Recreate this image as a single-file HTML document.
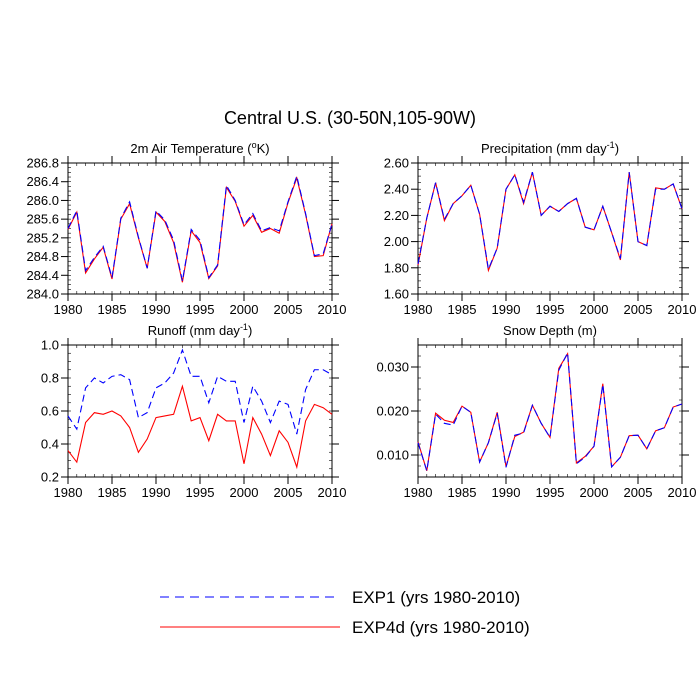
<!DOCTYPE html>
<html><head><meta charset="utf-8"><style>
body{margin:0;background:#fff;}
svg{display:block;font-family:"Liberation Sans",sans-serif;}
</style></head><body>
<svg id="chart" width="700" height="700" viewBox="0 0 700 700">
<text x="350" y="124" text-anchor="middle" font-size="18">Central U.S. (30-50N,105-90W)</text>
<g id="panels"></g>
<g>
<line x1="160" y1="597" x2="340" y2="597" stroke="#0000ff" stroke-width="1" stroke-dasharray="9,6"/>
<text x="352" y="603" font-size="17">EXP1 (yrs 1980-2010)</text>
<line x1="160" y1="627" x2="340" y2="627" stroke="#ff0000" stroke-width="1"/>
<text x="352" y="633" font-size="17">EXP4d (yrs 1980-2010)</text>
</g>
</svg>
<script>
const years=[];for(let y=1980;y<=2010;y++)years.push(y);
const xTicks=[1980,1985,1990,1995,2000,2005,2010];
const tempExp4d=[285.38,285.75,284.45,284.75,285.0,284.32,285.6,285.93,285.2,284.55,285.75,285.55,285.1,284.25,285.35,285.1,284.33,284.6,286.28,285.98,285.45,285.68,285.32,285.4,285.3,285.95,286.48,285.7,284.8,284.82,285.5];
const tempExp1=[285.4,285.78,284.5,284.78,285.02,284.35,285.62,285.97,285.22,284.55,285.78,285.58,285.15,284.28,285.38,285.15,284.35,284.62,286.32,286.0,285.48,285.72,285.35,285.42,285.35,285.97,286.52,285.72,284.82,284.86,285.5];
const tempTicks=[284.0,284.4,284.8,285.2,285.6,286.0,286.4,286.8];
const precipExp4d=[1.82,2.18,2.45,2.16,2.29,2.35,2.43,2.21,1.78,1.95,2.40,2.51,2.29,2.53,2.20,2.27,2.23,2.29,2.33,2.11,2.09,2.27,2.07,1.86,2.53,2.00,1.97,2.41,2.40,2.44,2.25];
const precipExp1=[1.83,2.18,2.45,2.17,2.29,2.35,2.43,2.21,1.79,1.95,2.40,2.51,2.30,2.53,2.20,2.27,2.23,2.29,2.33,2.11,2.09,2.27,2.07,1.87,2.53,2.00,1.97,2.40,2.40,2.44,2.25];
const precipTicks=[1.6,1.8,2.0,2.2,2.4,2.6];
const runoffExp4d=[.36,.29,.53,.59,.58,.60,.57,.50,.35,.43,.56,.57,.58,.75,.54,.56,.42,.58,.54,.54,.28,.56,.46,.33,.48,.41,.26,.54,.64,.62,.58];
const runoffExp1=[.57,.49,.74,.80,.77,.81,.82,.79,.56,.59,.74,.77,.83,.97,.81,.81,.65,.81,.78,.78,.53,.75,.66,.53,.66,.64,.46,.73,.85,.85,.82];
const runoffTicks=[0.2,0.4,0.6,0.8,1.0];
const snowExp4d=[.0130,.0064,.0195,.0179,.0174,.0211,.0197,.0084,.0128,.0197,.0074,.0142,.0152,.0213,.0172,.0140,.0297,.0330,.0082,.0097,.0120,.0262,.0073,.0095,.0144,.0145,.0114,.0155,.0162,.0209,.0216];
const snowExp1=[.0128,.0064,.0193,.0172,.0168,.0211,.0197,.0084,.0128,.0195,.0072,.0145,.0150,.0213,.0172,.0140,.0293,.0332,.0080,.0095,.0120,.0260,.0073,.0095,.0144,.0145,.0114,.0155,.0162,.0209,.0216];
const snowTicks=[0.010,0.020,0.030];

const NS="http://www.w3.org/2000/svg";
const root=document.getElementById('panels');
function mk(tag,attrs,parent){const e=document.createElementNS(NS,tag);for(const k in attrs)e.setAttribute(k,attrs[k]);parent.appendChild(e);return e;}

function panel(opt){
  const g=mk('g',{},root);
  
  
  const L=opt.x0,R=opt.x1,T=opt.y0,B=opt.y1;
  const xs=v=>L+(v-1980)/30*(R-L);
  const ys=v=>B-(v-opt.ymin)/(opt.ymax-opt.ymin)*(B-T);
  const t=mk('text',{x:(L+R)/2,y:T-10,'text-anchor':'middle','font-size':13},g);
  
  
  t.innerHTML=opt.title;
  for(let v=opt.ymin;v<=opt.ymax+1e-9;v+=opt.minor){
    const y=ys(v);
    mk('line',{x1:L,y1:y,x2:L+3,y2:y,stroke:'#000','stroke-width':0.6},g);
    mk('line',{x1:R,y1:y,x2:R-3,y2:y,stroke:'#000','stroke-width':0.6},g);
  }
  for(let yr=1980;yr<=2010;yr++){
    const x=xs(yr);
    mk('line',{x1:x,y1:B,x2:x,y2:B-3,stroke:'#000','stroke-width':0.6},g);
    mk('line',{x1:x,y1:T,x2:x,y2:T+3,stroke:'#000','stroke-width':0.6},g);
  }
  opt.ticks.forEach(v=>{
    const y=ys(v);
    mk('line',{x1:L-7,y1:y,x2:L,y2:y,stroke:'#000','stroke-width':1},g);
    mk('line',{x1:R,y1:y,x2:R+7,y2:y,stroke:'#000','stroke-width':1},g);
    const lb=mk('text',{x:L-9,y:y+4.5,'text-anchor':'end','font-size':13},g);
    
    
    lb.textContent=v.toFixed(opt.dec);
  });
  xTicks.forEach(v=>{
    const x=xs(v);
    mk('line',{x1:x,y1:B,x2:x,y2:B+7,stroke:'#000','stroke-width':1},g);
    mk('line',{x1:x,y1:T-7,x2:x,y2:T,stroke:'#000','stroke-width':1},g);
    const lb=mk('text',{x:x,y:B+20,'text-anchor':'middle','font-size':13},g);
    
    
    lb.textContent=v;
  });
  const fr=mk('rect',{x:L,y:T,width:R-L,height:B-T,fill:'none',stroke:'#000','stroke-width':1},g);
  
  
  const p4=mk('polyline',{points:years.map((yr,i)=>xs(yr)+','+ys(opt.s2[i])).join(' '),fill:'none',stroke:'#ff0000','stroke-width':1.1},g);
  
  
  const p1=mk('polyline',{points:years.map((yr,i)=>xs(yr)+','+ys(opt.s1[i])).join(' '),fill:'none',stroke:'#0000ff','stroke-width':1.1,'stroke-dasharray':'7,4'},g);
  
  
}
panel({name:'temperature-panel',title:'2m Air Temperature (<tspan baseline-shift="super" font-size="9">o</tspan>K)',x0:68,x1:332,y0:163,y1:294,ymin:284.0,ymax:286.8,ticks:tempTicks,minor:0.1,dec:1,s1:tempExp1,s2:tempExp4d});
panel({name:'precipitation-panel',title:'Precipitation (mm day<tspan baseline-shift="super" font-size="9">-1</tspan>)',x0:418,x1:682,y0:163,y1:294,ymin:1.6,ymax:2.6,ticks:precipTicks,minor:0.05,dec:2,s1:precipExp1,s2:precipExp4d});
panel({name:'runoff-panel',title:'Runoff (mm day<tspan baseline-shift="super" font-size="9">-1</tspan>)',x0:68,x1:332,y0:345,y1:477,ymin:0.2,ymax:1.0,ticks:runoffTicks,minor:0.05,dec:1,s1:runoffExp1,s2:runoffExp4d});
panel({name:'snow-depth-panel',title:'Snow Depth (m)',x0:418,x1:682,y0:345,y1:477,ymin:0.005,ymax:0.035,ticks:snowTicks,minor:0.0025,dec:3,s1:snowExp1,s2:snowExp4d});
</script>
</body></html>
